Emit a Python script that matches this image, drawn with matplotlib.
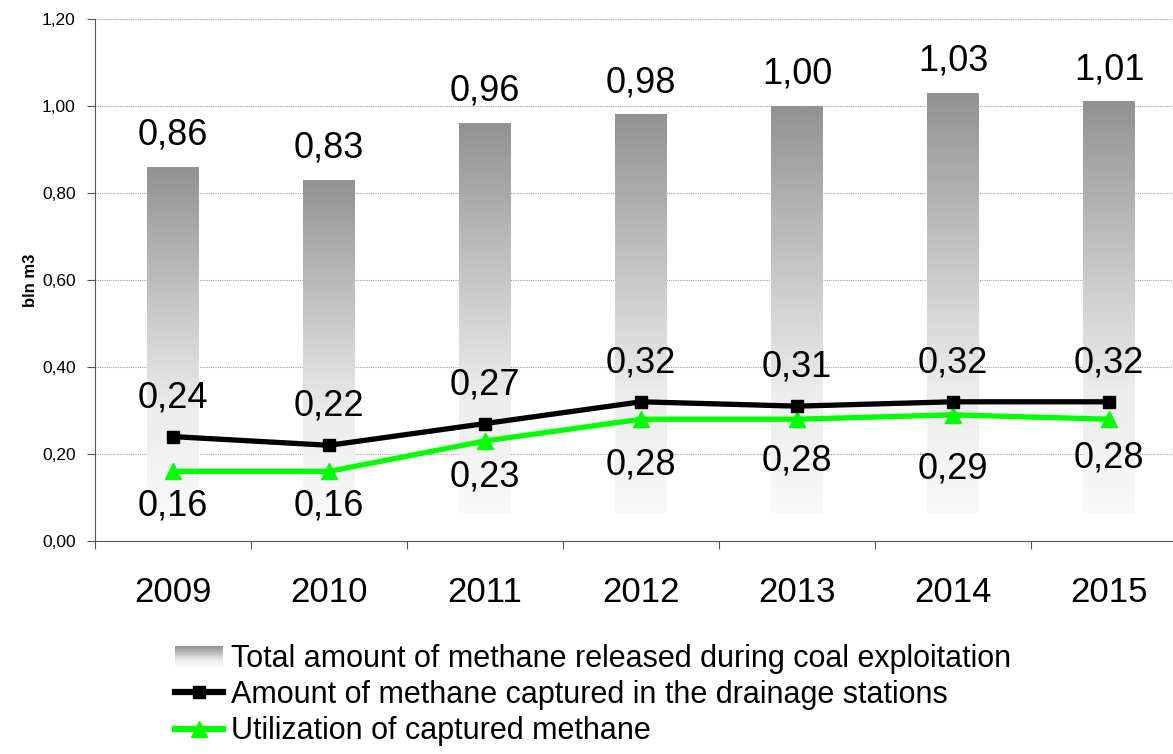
import numpy as np
import matplotlib
matplotlib.use("Agg")
import matplotlib.pyplot as plt
from matplotlib.colors import LinearSegmentedColormap
from matplotlib.lines import Line2D
from matplotlib.patches import Patch, Rectangle
from matplotlib.legend_handler import HandlerBase

plt.rcParams['font.family'] = ['Liberation Sans', 'DejaVu Sans']

years = ['2009', '2010', '2011', '2012', '2013', '2014', '2015']
total = [0.86, 0.83, 0.96, 0.98, 1.00, 1.03, 1.01]
captured = [0.24, 0.22, 0.27, 0.32, 0.31, 0.32, 0.32]
utilized = [0.16, 0.16, 0.23, 0.28, 0.28, 0.29, 0.28]
yticks = [0.0, 0.2, 0.4, 0.6, 0.8, 1.0, 1.2]

names = ['Total amount of methane released during coal exploitation',
         'Amount of methane captured in the drainage stations',
         'Utilization of captured methane']

# label offsets below the green points (points), excel placed them unevenly
green_off = [-25, -25, -26, -33, -30, -39, -28]

def comma(v):
    return f"{v:.2f}".replace('.', ',')

grad = LinearSegmentedColormap.from_list(
    'barg', [(0.0, '#f9f9f9'), (0.3, '#ececec'), (0.55, '#cdcdcd'), (1.0, '#929292')])

fig = plt.figure(figsize=(11.73, 7.54), dpi=100)
ax = fig.add_axes([0.081, 0.2825, 0.931, 0.6923])

x = np.arange(len(years))
bw = 0.33
bar_bottom = 0.065  # the bars fade out a bit above the axis
for xi, v in zip(x, total):
    g = np.linspace(1, 0, 256).reshape(-1, 1)
    ax.imshow(g, cmap=grad, vmin=0, vmax=1, aspect='auto',
              extent=[xi - bw / 2, xi + bw / 2, bar_bottom, v], zorder=2,
              interpolation='bilinear')
    ax.annotate(comma(v), (xi, v), xytext=(0, 23), textcoords='offset points',
                ha='center', va='center', fontsize=26)

ax.plot(x, captured, color='black', lw=3.8, marker='s', ms=9, zorder=4)
ax.plot(x, utilized, color='#00ff00', lw=3.8, marker='^', ms=11, zorder=3)

for xi, v in zip(x, captured):
    ax.annotate(comma(v), (xi, v), xytext=(0, 28), textcoords='offset points',
                ha='center', va='center', fontsize=26)
for xi, v, off in zip(x, utilized, green_off):
    ax.annotate(comma(v), (xi, v), xytext=(0, off), textcoords='offset points',
                ha='center', va='center', fontsize=26)

ax.set_xlim(-0.5, len(years) - 0.5)
ax.set_ylim(0, 1.2)
ax.set_yticks(yticks)
ax.set_yticklabels([comma(t) for t in yticks], fontsize=12.5)
ax.yaxis.grid(True, color='#a0a0a0', lw=0.8, ls=(0, (1, 1)))
ax.set_axisbelow(True)

ax.set_xticks(np.arange(len(years) + 1) - 0.5)
ax.set_xticklabels([])
ax.set_xticks(x, minor=True)
ax.set_xticklabels(years, minor=True, fontsize=25)
ax.tick_params(axis='x', which='minor', length=0, pad=25)
ax.tick_params(axis='x', which='major', length=6, direction='out', color='#555555')
ax.tick_params(axis='y', length=6, direction='out', color='#555555', pad=8)

for s in ['top', 'right']:
    ax.spines[s].set_visible(False)
for s in ['left', 'bottom']:
    ax.spines[s].set_color('#555555')

ax.set_ylabel('bln m3', fontsize=12, fontweight='bold', labelpad=3)


class GradHandler(HandlerBase):
    def create_artists(self, legend, orig, xd, yd, width, height, fontsize, trans):
        arts = []
        n = 12
        for i in range(n):
            c = grad(1 - i / (n - 1))
            r = Rectangle((-xd, -yd + height * (1 - (i + 1) / n)), width, height / n,
                          facecolor=c, edgecolor='none', transform=trans)
            arts.append(r)
        return arts


handles = [Patch(facecolor='#b0b0b0'),
           Line2D([], [], color='black', lw=4.5, marker='s', ms=9),
           Line2D([], [], color='#00ff00', lw=4.5, marker='^', ms=11)]
fig.legend(handles, names, loc='upper left', bbox_to_anchor=(0.139, 0.162),
           frameon=False, fontsize=22, handlelength=1.55, handletextpad=0.27,
           labelspacing=0.2, borderaxespad=0,
           handler_map={Patch: GradHandler()})

fig.savefig('out.png', dpi=100)
